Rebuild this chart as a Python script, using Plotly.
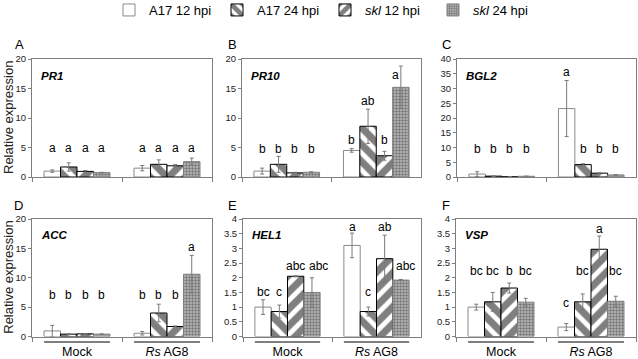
import plotly.graph_objects as go

# ---------------- data ----------------
groups = ["Mock", "Rs AG8"]
group_ticktext = ["Mock", "<i>Rs</i> AG8"]
series_names = ["A17 12 hpi", "A17 24 hpi", "<i>skl</i> 12 hpi", "<i>skl</i> 24 hpi"]
panel_letters = ["A", "B", "C", "D", "E", "F"]
gene_names = ["PR1", "PR10", "BGL2", "ACC", "HEL1", "VSP"]

# values: one list per series, [Mock, Rs AG8]
pr1_values = [[1.0, 1.5], [1.7, 2.15], [0.95, 1.9], [0.75, 2.6]]
pr1_errors = [[0.2, 0.45], [0.7, 0.75], [0.15, 0.2], [0.05, 0.6]]
pr1_letters = [["a", "a"], ["a", "a"], ["a", "a"], ["a", "a"]]
pr1_letter_y = [[5.0, 5.0], [5.0, 5.0], [5.0, 5.0], [5.0, 5.0]]

pr10_values = [[1.0, 4.5], [2.15, 8.6], [0.7, 3.6], [0.8, 15.2]]
pr10_errors = [[0.5, 0.3], [1.35, 2.9], [0.1, 0.75], [0.1, 3.6]]
pr10_letters = [["b", "b"], ["b", "ab"], ["b", "b"], ["b", "a"]]
pr10_letter_y = [[4.8, 6.2], [4.8, 12.8], [4.8, 6.2], [4.8, 17.3]]

bgl2_values = [[1.0, 23.2], [0.3, 4.2], [0.05, 1.3], [0.25, 0.7]]
bgl2_errors = [[0.8, 9.5], [0.1, 0.3], [0.02, 0.2], [0.05, 0.1]]
bgl2_letters = [["b", "a"], ["b", "b"], ["b", "b"], ["b", "b"]]
bgl2_letter_y = [[9.6, 35.7], [9.6, 9.6], [9.6, 9.6], [9.6, 9.6]]

acc_values = [[0.95, 0.55], [0.4, 4.0], [0.45, 1.7], [0.4, 10.6]]
acc_errors = [[0.95, 0.3], [0.1, 1.5], [0.05, 0.1], [0.05, 3.2]]
acc_letters = [["b", "b"], ["b", "b"], ["b", "b"], ["b", "a"]]
acc_letter_y = [[7.0, 7.0], [7.0, 7.0], [7.0, 7.0], [7.0, 15.2]]

hel1_values = [[1.0, 3.1], [0.85, 0.85], [2.05, 2.65], [1.5, 1.92]]
hel1_errors = [[0.25, 0.42], [0.22, 0.15], [0.02, 0.8], [0.5, 0.02]]
hel1_letters = [["bc", "a"], ["c", "c"], ["abc", "ab"], ["abc", "abc"]]
hel1_letter_y = [[1.5, 3.72], [1.5, 1.5], [2.41, 3.72], [2.41, 2.41]]

vsp_values = [[1.0, 0.32], [1.18, 1.18], [1.65, 2.97], [1.17, 1.2]]
vsp_errors = [[0.1, 0.12], [0.32, 0.27], [0.17, 0.45], [0.13, 0.17]]
vsp_letters = [["bc", "c"], ["bc", "bc"], ["b", "a"], ["bc", "bc"]]
vsp_letter_y = [[2.22, 1.14], [2.22, 2.22], [2.22, 3.66], [2.22, 2.22]]

y_ranges = [[0, 20], [0, 20], [0, 40], [0, 20], [0, 4], [0, 4]]
y_dticks = [5, 5, 5, 5, 0.5, 0.5]

panels = [
    (pr1_values, pr1_errors, pr1_letters, pr1_letter_y),
    (pr10_values, pr10_errors, pr10_letters, pr10_letter_y),
    (bgl2_values, bgl2_errors, bgl2_letters, bgl2_letter_y),
    (acc_values, acc_errors, acc_letters, acc_letter_y),
    (hel1_values, hel1_errors, hel1_letters, hel1_letter_y),
    (vsp_values, vsp_errors, vsp_letters, vsp_letter_y),
]

# ---------------- styles ----------------
FONT = "Liberation Sans, Arial, sans-serif"
W, H = 638, 359
BARGAP = 0.267
AXIS_GRAY = "#7f7f7f"

series_styles = [
    dict(color="white", line=dict(color="#8a8a8a", width=1)),
    dict(color="white", line=dict(color="black", width=1),
         pattern=dict(shape="\\", fgcolor="black", bgcolor="white", size=12, solidity=0.6)),
    dict(color="white", line=dict(color="black", width=1),
         pattern=dict(shape="/", fgcolor="black", bgcolor="white", size=12, solidity=0.6)),
    dict(color="#9a9a9a", line=dict(color="#808080", width=1),
         pattern=dict(shape=".", fgcolor="#2e2e2e", bgcolor="#bdbdbd", size=3, solidity=0.5)),
]

# small pixel nudges of individual significance letters (panel, series, group) -> px
letter_nudge_px = {(4, 3, 0): 7, (4, 3, 1): 5, (1, 3, 1): -5}

# pixel boxes of the plot areas (left, right, top, bottom)
boxes = [
    (32, 212, 59, 177), (242, 421, 59, 177), (457, 636, 59, 177),
    (32, 212, 219, 336.5), (243, 421, 219, 336.5), (456, 636, 219, 336.5),
]
letter_pos = [(19, 44), (232, 44), (446, 44), (18, 205), (232, 205), (446, 205)]

fig = go.Figure()
annotations = []
shapes = []
layout_axes = {}

n_series = len(series_names)
bar_w = (1 - BARGAP) / n_series

for p, (vals, errs, lets, lety) in enumerate(panels):
    k = p + 1
    xa = "x" if k == 1 else f"x{k}"
    ya = "y" if k == 1 else f"y{k}"
    for s in range(n_series):
        st = series_styles[s]
        marker = dict(color=st["color"], line=st["line"])
        if "pattern" in st:
            marker["pattern"] = st["pattern"]
        fig.add_trace(go.Bar(
            x=groups, y=vals[s], name=series_names[s],
            marker=marker, xaxis=xa, yaxis=ya,
            showlegend=(p == 0), legendgroup=str(s),
            error_y=dict(type="data", array=errs[s], color="#7a7a7a",
                         thickness=1, width=2),
        ))
        for g in range(len(groups)):
            xpos = g + (s - (n_series - 1) / 2) * bar_w
            annotations.append(dict(
                x=xpos, y=lety[s][g], xref=xa, yref=ya, text=lets[s][g],
                xshift=letter_nudge_px.get((p, s, g), 0),
                showarrow=False, font=dict(family=FONT, size=12, color="black"),
                xanchor="center", yanchor="middle"))
    l, r, t, b = boxes[p]
    xdom = [l / W, r / W]
    ydom = [1 - b / H, 1 - t / H]
    bottom_row = p >= 3
    layout_axes["xaxis" if k == 1 else f"xaxis{k}"] = dict(
        domain=xdom, anchor=ya, type="category", range=[-0.5, 1.5],
        showline=True, linecolor=AXIS_GRAY, linewidth=1, mirror=True,
        ticks="outside", tickson="boundaries", ticklen=4, tickcolor=AXIS_GRAY,
        showgrid=False, zeroline=False,
        tickmode="array", tickvals=groups,
        ticktext=group_ticktext if bottom_row else ["", ""],
        showticklabels=bottom_row, ticklabelstandoff=3,
        tickfont=dict(family=FONT, size=12.5, color="black"),
    )
    layout_axes["yaxis" if k == 1 else f"yaxis{k}"] = dict(
        domain=ydom, anchor=xa, range=y_ranges[p], dtick=y_dticks[p],
        showline=True, linecolor=AXIS_GRAY, linewidth=1, mirror=True,
        ticks="outside", ticklen=3, tickcolor=AXIS_GRAY,
        showgrid=False, zeroline=False,
        tickfont=dict(family=FONT, size=9.5, color="#222222"),
    )
    # gene name
    annotations.append(dict(
        x=0.04, y=0.86, xref=f"{xa} domain", yref=f"{ya} domain",
        text=f"<b><i>{gene_names[p]}</i></b>", showarrow=False,
        xanchor="left", yanchor="middle",
        font=dict(family=FONT, size=11.5, color="black")))
    # panel letter
    lx, ly = letter_pos[p]
    annotations.append(dict(
        x=lx / W, y=1 - ly / H, xref="paper", yref="paper",
        text=panel_letters[p], showarrow=False, xanchor="center", yanchor="middle",
        font=dict(family=FONT, size=13, color="black")))
    # y title on left column
    if p in (0, 3):
        annotations.append(dict(
            x=9 / W, y=(ydom[0] + ydom[1]) / 2, xref="paper", yref="paper",
            text="Relative expression", textangle=-90, showarrow=False,
            xanchor="center", yanchor="middle",
            font=dict(family=FONT, size=13, color="#222222")))
    # group underline on bottom row
    if bottom_row:
        for g in range(len(groups)):
            shapes.append(dict(
                type="line", xref=xa, yref="paper",
                x0=g - (1 - BARGAP) / 2, x1=g + (1 - BARGAP) / 2,
                y0=1 - 342 / H, y1=1 - 342 / H,
                line=dict(color="black", width=1)))

fig.update_layout(
    width=W, height=H,
    margin=dict(l=0, r=0, t=0, b=0, autoexpand=False),
    paper_bgcolor="white", plot_bgcolor="white",
    barmode="group", bargap=BARGAP, bargroupgap=0,
    font=dict(family=FONT, size=12, color="black"),
    showlegend=True,
    legend=dict(orientation="h", x=109 / W, y=1 - 10 / H, xanchor="left", yanchor="middle",
                entrywidth=63, entrywidthmode="pixels", itemwidth=30,
                font=dict(family=FONT, size=13, color="black"),
                bgcolor="rgba(0,0,0,0)", traceorder="normal"),
    annotations=annotations,
    shapes=shapes,
    **layout_axes,
)

fig.write_html("out.html", config={"displayModeBar": False},
               post_script="document.body.style.margin='0';")
